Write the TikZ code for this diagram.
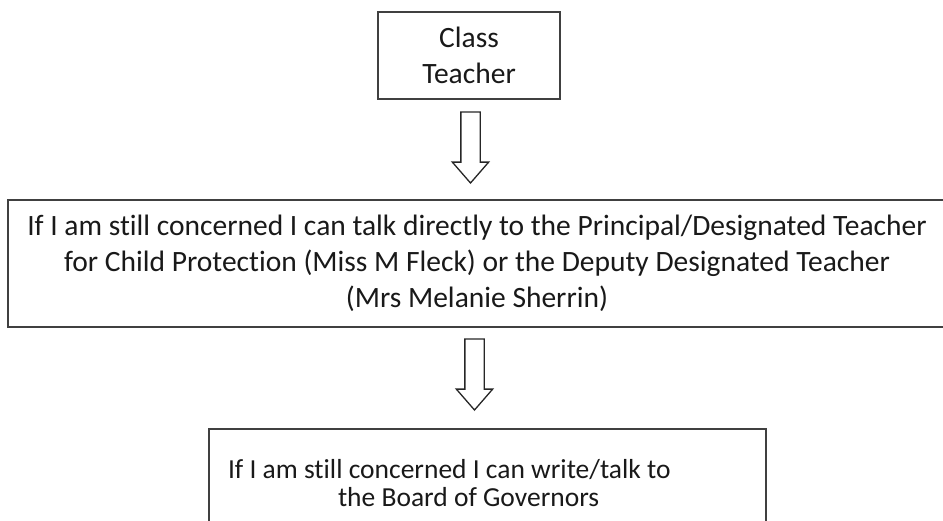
\documentclass[tikz,border=0pt]{standalone}
\usepackage{fontspec}
\setmainfont[Ligatures=NoCommon]{Carlito}
\usetikzlibrary{shapes.arrows}

\begin{document}
\begin{tikzpicture}[x=1pt, y=-1pt,
    box/.style={draw=black!75, line width=1.6pt, align=center, inner sep=0pt, text=black!90, font=\fontsize{29.5}{36}\selectfont},
    downarrow/.style={draw=black!85, line width=1.3pt, shape=single arrow, rotate=-90, anchor=tip, minimum height=71pt, minimum width=0pt, inner xsep=0pt, inner ysep=9pt, single arrow head extend=8.5pt, single arrow tip angle=82}
]
\clip (0,0) rectangle (943,520);

% Boxes from top to bottom
\node[box, minimum width=182pt, minimum height=87pt] (teacher) at (469,55.5) {Class\\Teacher};
\node[box, minimum width=938pt, minimum height=127pt] (principal) at (477,263.5) {If I am still concerned I can talk directly to the Principal/Designated Teacher\\for Child Protection (Miss M Fleck) or the Deputy Designated Teacher\\(Mrs Melanie Sherrin)};
\node[box, align=flush left, minimum width=557pt, minimum height=108pt, text width=519pt, inner xsep=19pt, font=\fontsize{27.5}{28.5}\selectfont] (governors) at (487.5,483) {If I am still concerned I can write/talk to\\\hspace*{110pt}the Board of Governors};

% Hollow arrows between the boxes
\node[downarrow] (arrow1) at (470.5,184) {};
\node[downarrow] (arrow2) at (474.5,411) {};
\end{tikzpicture}
\end{document}
